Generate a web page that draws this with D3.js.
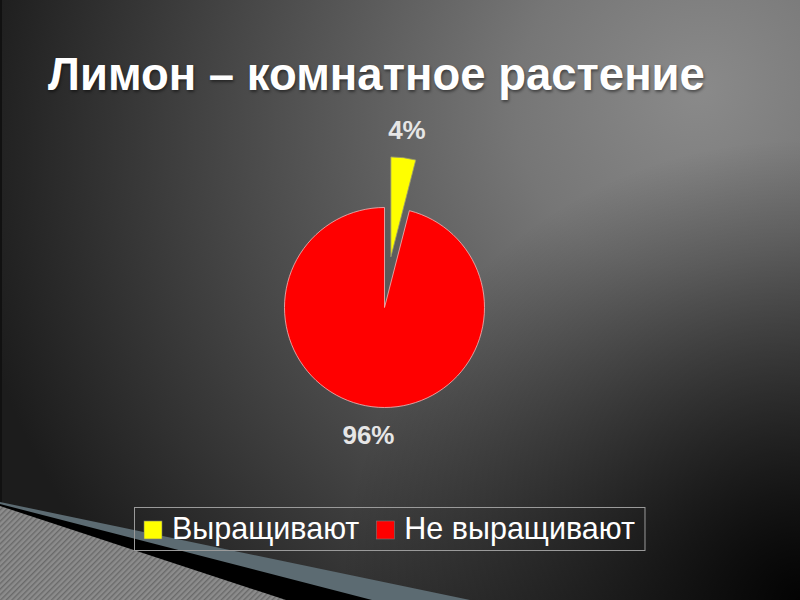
<!DOCTYPE html>
<html>
<head>
<meta charset="utf-8">
<title>Лимон – комнатное растение</title>
<script src="https://cdnjs.cloudflare.com/ajax/libs/d3/7.8.5/d3.min.js"></script>
<style>
  body { margin: 0; background: #000; }
  svg { display: block; font-family: "Liberation Sans", Arial, sans-serif; }
</style>
</head>
<body>
<div id="chart"></div>
<script>
// chart data
var title = "Лимон – комнатное растение";
var categories = ["Выращивают", "Не выращивают"];
var values = [4, 96];
var labels = ["4%", "96%"];
var colors = ["#ffff00", "#ff0000"];
var exploded = [true, false];

var width = 800, height = 600;
var cx = 384.5, cy = 307.5, radius = 100;

var svg = d3.select("#chart").append("svg")
    .attr("width", width)
    .attr("height", height);

var defs = svg.append("defs");

// slide background: light spot top right, dark toward the edges
var bg = defs.append("radialGradient")
    .attr("id", "bg")
    .attr("gradientUnits", "userSpaceOnUse")
    .attr("cx", 700).attr("cy", 90).attr("r", 760)
    .attr("gradientTransform", "translate(700,90) rotate(145) scale(1,0.9) translate(-700,-90)");
bg.append("stop").attr("offset", 0).attr("stop-color", "#8a8a8a");
bg.append("stop").attr("offset", 0.25).attr("stop-color", "#767676");
bg.append("stop").attr("offset", 0.55).attr("stop-color", "#525252");
bg.append("stop").attr("offset", 0.8).attr("stop-color", "#343434");
bg.append("stop").attr("offset", 1).attr("stop-color", "#1c1c1c");

var vig = defs.append("radialGradient")
    .attr("id", "vig")
    .attr("gradientUnits", "userSpaceOnUse")
    .attr("cx", 800).attr("cy", 600).attr("r", 460);
vig.append("stop").attr("offset", 0).attr("stop-color", "#000").attr("stop-opacity", 0.95);
vig.append("stop").attr("offset", 1).attr("stop-color", "#000").attr("stop-opacity", 0);

var stripes = defs.append("pattern")
    .attr("id", "stripes")
    .attr("patternUnits", "userSpaceOnUse")
    .attr("width", 4).attr("height", 4)
    .attr("patternTransform", "rotate(45)");
stripes.append("rect").attr("width", 4).attr("height", 4).attr("fill", "#8c8c8c");
stripes.append("rect").attr("width", 1.4).attr("height", 4).attr("fill", "#6a6a6a");

svg.append("rect")
    .attr("width", width).attr("height", height)
    .attr("fill", "url(#bg)");
svg.append("rect")
    .attr("width", width).attr("height", height)
    .attr("fill", "url(#vig)");
svg.append("rect")
    .attr("width", 2).attr("height", height)
    .attr("fill", "#111");

// corner decoration
svg.append("path").attr("d", "M0,502L470,600L0,600Z").attr("fill", "#5c6b72");
svg.append("path").attr("d", "M0,504L372,600L0,600Z").attr("fill", "#000");
svg.append("path").attr("d", "M0,506L286,600L0,600Z").attr("fill", "url(#stripes)");

// title
svg.append("text")
    .attr("x", 48).attr("y", 90)
    .attr("fill", "#fff")
    .attr("font-size", 45.5)
    .attr("font-weight", "bold")
    .style("text-shadow", "1px 2px 3px rgba(0,0,0,0.45)")
    .text(title);

// pie
var pie = d3.pie().sort(null).value(function(d) { return d; });
var arcs = pie(values);
var arc = d3.arc().innerRadius(0).outerRadius(radius);
var labelArc = d3.arc().innerRadius(radius * 1.28).outerRadius(radius * 1.28);

var g = svg.append("g").attr("transform", "translate(" + cx + "," + cy + ")");

var slice = g.selectAll("g.slice")
    .data(arcs)
    .enter().append("g")
    .attr("class", "slice")
    .attr("transform", function(d, i) {
        if (!exploded[i]) return null;
        var a = (d.startAngle + d.endAngle) / 2;
        return "translate(" + (Math.sin(a) * radius * 0.51) + "," + (-Math.cos(a) * radius * 0.51) + ")";
    });

slice.append("path")
    .attr("d", arc)
    .attr("fill", function(d, i) { return colors[i]; })
    .attr("stroke", function(d, i) { return i === 0 ? "#9a9a70" : "#f2b8b8"; })
    .attr("stroke-width", 0.8);

slice.append("text")
    .attr("transform", function(d) { return "translate(" + labelArc.centroid(d) + ")"; })
    .attr("dy", "0.36em")
    .attr("text-anchor", "middle")
    .attr("fill", "#e6e6e6")
    .attr("font-size", 26)
    .attr("font-weight", "bold")
    .text(function(d, i) { return labels[i]; });

// legend
var legend = svg.append("g");
var lx = 144, ly = 521;
var x = lx;
categories.forEach(function(c, i) {
    legend.append("rect")
        .attr("x", x).attr("y", ly)
        .attr("width", 18).attr("height", 18)
        .attr("fill", colors[i])
        .attr("stroke", "#777")
        .attr("stroke-width", 0.6);
    var t = legend.append("text")
        .attr("x", x + 28).attr("y", ly + 18)
        .attr("fill", "#fff")
        .attr("font-size", 30.5)
        .text(c);
    x = x + 28 + t.node().getComputedTextLength() + 17;
});
legend.insert("rect", ":first-child")
    .attr("x", 134.5).attr("y", 507.5)
    .attr("width", x - 17 + 10 - 134.5).attr("height", 43)
    .attr("fill", "none")
    .attr("stroke", "#9a9a9a")
    .attr("stroke-width", 1);
</script>
</body>
</html>
